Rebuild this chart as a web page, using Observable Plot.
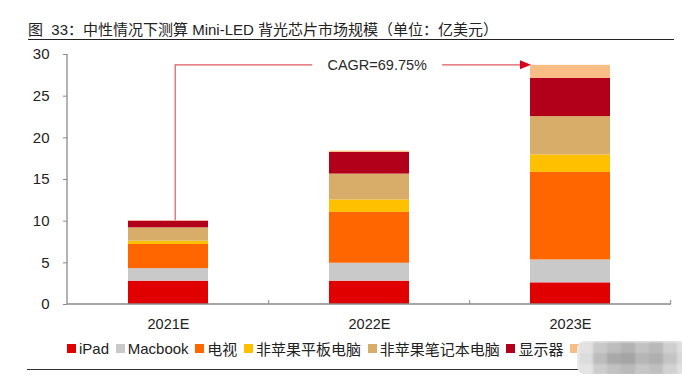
<!DOCTYPE html>
<html>
<head>
<meta charset="utf-8">
<script src="https://cdn.jsdelivr.net/npm/d3@7"></script>
<script src="https://cdn.jsdelivr.net/npm/@observablehq/plot@0.6"></script>
<style>
  html, body { margin: 0; padding: 0; background: #fff; }
  #wrap { position: relative; width: 682px; height: 383px; overflow: hidden; font-family: "Liberation Sans", "Noto Sans CJK SC", Arial, sans-serif; color: #222; }
  #chart { position: absolute; left: 0; top: 0; }
  #title { position: absolute; left: 28px; top: 21px; font-size: 15px; line-height: 18px; white-space: pre; font-family: "Liberation Sans", "Noto Sans CJK SC", sans-serif; }
  #rule1 { position: absolute; left: 28px; top: 38.5px; width: 646px; height: 1.5px; background: #222; }
  #rule2 { position: absolute; left: 27px; top: 368.5px; width: 646px; height: 1.5px; background: #333; }
  #legend { position: absolute; left: 67px; top: 340px; height: 17px; display: flex; align-items: center; font-size: 15px; white-space: nowrap; font-family: "Liberation Sans", "Noto Sans CJK SC", sans-serif; }
  .item { display: flex; align-items: center; margin-right: 6.7px; }
  .sw { width: 9px; height: 9px; margin-right: 3px; }
  #wmo { position: absolute; left: 577px; top: 341px; width: 110px; height: 33px; border-radius: 8px; overflow: hidden; background: #ececec; }
  #wm { position: absolute; left: 2px; top: 1px; display: grid; grid-template-columns: repeat(8, 14px); grid-template-rows: repeat(3, 11px); filter: blur(1px); }
</style>
</head>
<body>
<div id="wrap">
  <div id="chart"></div>
  <div id="title"></div>
  <div id="rule1"></div>
  <div id="legend"></div>
  <div id="rule2"></div>
  <div id="wmo"><div id="wm"></div></div>
</div>
<script>
// ---- data ----
const titleText = "图  33：中性情况下测算 Mini-LED 背光芯片市场规模（单位：亿美元）";
const years = ["2021E", "2022E", "2023E"];
const seriesNames = ["iPad", "Macbook", "电视", "非苹果平板电脑", "非苹果笔记本电脑", "显示器", "其他"];
const legendShown = ["iPad", "Macbook", "电视", "非苹果平板电脑", "非苹果笔记本电脑", "显示器", ""];
const ipad     = [2.8, 2.8, 2.6];
const macbook  = [1.5, 2.15, 2.75];
const tv       = [2.9, 6.1, 10.5];
const tablet   = [0.4, 1.5, 2.1];
const notebook = [1.6, 3.1, 4.6];
const display  = [0.8, 2.6, 4.6];
const other    = [0.05, 0.15, 1.55];
const colors = ["#E00000", "#C9C9C9", "#FF6600", "#FFC000", "#D7AD69", "#B2001A", "#F9BD85"];
const yTicks = [0, 5, 10, 15, 20, 25, 30];
const cagrLabel = "CAGR=69.75%";

// ---- build table ----
const seriesValues = [ipad, macbook, tv, tablet, notebook, display, other];
const rows = [];
years.forEach((yr, i) => {
  seriesNames.forEach((s, k) => rows.push({year: yr, series: s, value: seriesValues[k][i]}));
});
const totals = years.map((_, i) => d3.sum(seriesValues, v => v[i]));

const W = 682, H = 383;
const PAD = 0.6;

function decorations(index, scales, values, dims) {
  const sx = scales.x, sy = scales.y;
  const step = sx(years[1]) - sx(years[0]);
  const bw = step * (1 - PAD);
  const g = d3.create("svg:g");
  const left = dims.marginLeft, right = dims.width - dims.marginRight;
  const y0 = sy(0);
  g.append("line").attr("x1", left).attr("x2", left).attr("y1", sy(30)).attr("y2", y0)
    .attr("stroke", "#8a8a8a").attr("stroke-width", 1.3);
  g.append("line").attr("x1", left).attr("x2", right).attr("y1", y0).attr("y2", y0)
    .attr("stroke", "#8a8a8a").attr("stroke-width", 1.5);
  years.forEach(yr => {
    const xb = sx(yr) + bw / 2 + step / 2;
    g.append("line").attr("x1", xb).attr("x2", xb).attr("y1", y0).attr("y2", y0 - 4)
      .attr("stroke", "#8a8a8a").attr("stroke-width", 1);
  });
  const xa = sx(years[0]) + bw / 2 + 7;
  const ya = sy(totals[0]);
  const yt = sy(totals[2]);
  const xe = sx(years[2]);
  const xc = sx(years[1]) + bw / 2 + 8;
  g.append("path")
    .attr("d", `M${xa},${ya}V${yt}H${xc - 65}M${xc + 65},${yt}H${xe - 9}`)
    .attr("fill", "none").attr("stroke", "#E0585C").attr("stroke-width", 1.2);
  g.append("path")
    .attr("d", `M${xe + 1},${yt}L${xe - 10},${yt - 4.5}L${xe - 10},${yt + 4.5}Z`)
    .attr("fill", "#D9001B");
  g.append("text").attr("x", xc).attr("y", yt + 1.5)
    .attr("text-anchor", "middle").attr("dominant-baseline", "middle")
    .attr("font-size", 14.5).attr("fill", "#2a2a2a").text(cagrLabel);
  return g.node();
}

const chart = Plot.plot({
  width: W,
  height: H,
  marginTop: 54,
  marginBottom: 79,
  marginLeft: 67,
  marginRight: 11,
  style: {fontFamily: "'Liberation Sans', Arial, sans-serif", fontSize: "15px", color: "#222", background: "transparent"},
  x: {domain: years, paddingInner: PAD, paddingOuter: PAD / 2, label: null, axis: null},
  y: {domain: [0, 30], label: null, axis: null},
  color: {domain: seriesNames, range: colors},
  marks: [
    Plot.barY(rows, {x: "year", y: "value", fill: "series", order: seriesNames, insetLeft: 0, insetRight: 0}),
    Plot.axisY(yTicks, {tickSize: 4, tickPadding: 14, stroke: "#8a8a8a", fill: "#222", fontSize: 15, label: null}),
    Plot.axisX(years, {tickSize: 0, tickPadding: 14.5, fill: "#222", fontSize: 14.5, label: null}),
    decorations
  ]
});
document.getElementById("chart").appendChild(chart);

document.getElementById("title").textContent = titleText;

const legend = document.getElementById("legend");
legendShown.forEach((name, k) => {
  const it = document.createElement("div");
  it.className = "item";
  const sw = document.createElement("div");
  sw.className = "sw";
  sw.style.background = colors[k];
  it.appendChild(sw);
  if (name) {
    const t = document.createElement("span");
    t.textContent = name;
    it.appendChild(t);
  }
  legend.appendChild(it);
});

const greys = ["#e2e2e2","#c9c9c9","#bdbdbd","#b3b3b3","#c2c2c2","#b9b9b9","#cfcfcf","#dedede",
               "#dcdcdc","#bcbcbc","#a9a9a9","#a4a4a4","#b6b6b6","#afafaf","#c4c4c4","#d8d8d8",
               "#e4e4e4","#cdcdcd","#c1c1c1","#bababa","#c6c6c6","#c0c0c0","#d2d2d2","#e0e0e0"];
const wm = document.getElementById("wm");
greys.forEach(c => { const d = document.createElement("div"); d.style.background = c; wm.appendChild(d); });
</script>
</body>
</html>
